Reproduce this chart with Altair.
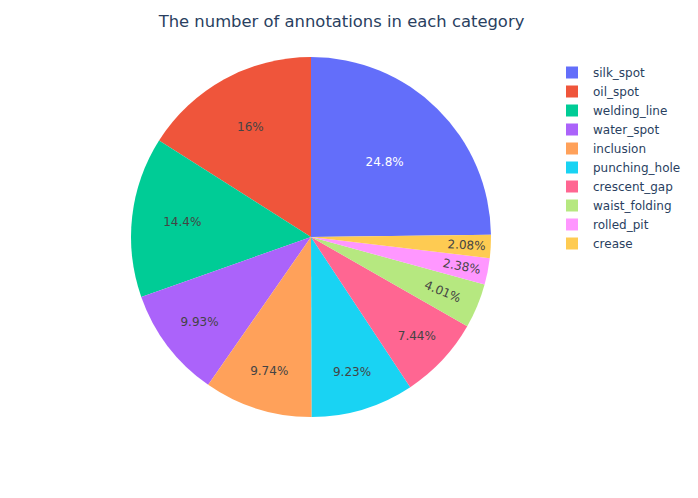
import altair as alt
import pandas as pd

categories = ["silk_spot", "oil_spot", "welding_line", "water_spot", "inclusion",
              "punching_hole", "crescent_gap", "waist_folding", "rolled_pit", "crease"]
percent = [24.8, 16.0, 14.4, 9.93, 9.74, 9.23, 7.44, 4.01, 2.38, 2.08]
colors = ["#636EFA", "#EF553B", "#00CC96", "#AB63FA", "#FFA15A",
          "#19D3F3", "#FF6692", "#B6E880", "#FF97FF", "#FECB52"]

n = len(categories)
# clockwise drawing order (first slice, then the rest counter-clockwise as in the source)
order = [0] + [n - i for i in range(1, n)]
df = pd.DataFrame({"category": categories, "value": percent, "ord": order})

FONT = "DejaVu Sans"
R = 180

base = alt.Chart(df).transform_joinaggregate(
    total="sum(value)"
).transform_window(
    cum="sum(value)", sort=[alt.SortField("ord")], frame=[None, 0]
).transform_calculate(
    pct="datum.value / datum.total * 100",
    span="datum.value / datum.total * 360",
    t0="(datum.cum - datum.value) / datum.total * 2 * PI",
    t1="datum.cum / datum.total * 2 * PI",
    tm="(datum.cum - datum.value / 2) / datum.total * 2 * PI",
    label="format(datum.value / datum.total * 100, '.3~r') + '%'",
).transform_calculate(
    ang="datum.pct < 5 ? datum.tm * 180 / PI - 90 : 0",
    r="datum.pct < 5 ? 142.6 + (4.01 - datum.pct) * 6.8 : "
      "(datum.span > 36 ? 140 - (datum.span - 36) * 0.66 : 140 + (36 - datum.span) * 0.55)",
)

pie = base.mark_arc(outerRadius=R, stroke=None).encode(
    theta=alt.Theta("t0:Q", scale=None),
    theta2="t1:Q",
    color=alt.Color(
        "category:N",
        scale=alt.Scale(domain=categories, range=colors),
        sort=categories,
        legend=alt.Legend(
            title=None, orient="none", legendX=558, legendY=18.5,
            symbolType="square", symbolSize=144, symbolStrokeWidth=0,
            symbolOpacity=1,
            labelFont=FONT, labelFontSize=12, labelColor="#2a3f5f",
            labelOffset=15, rowPadding=7,
        ),
    ),
)

text = base.mark_text(font=FONT, fontSize=12, align="center", baseline="middle").encode(
    theta=alt.Theta("tm:Q", scale=None),
    radius=alt.Radius("r:Q", scale=None),
    angle=alt.Angle("ang:Q", scale=None),
    text="label:N",
    color=alt.condition(alt.datum.category == "silk_spot", alt.value("#ffffff"), alt.value("#444444")),
)

chart = alt.layer(pie, text).properties(
    width=606, height=378,
    padding={"left": 0, "top": 40, "right": 76, "bottom": 64},
    autosize=alt.AutoSizeParams(type="none"),
    title=alt.TitleParams(
        "The number of annotations in each category",
        font=FONT, fontSize=16.4, fontWeight="normal", color="#2a3f5f",
        anchor="middle", dx=30.5, offset=18,
    ),
).configure_view(stroke=None).configure(background="white")

chart.save("out.html", embed_options={"renderer": "svg", "actions": False})
